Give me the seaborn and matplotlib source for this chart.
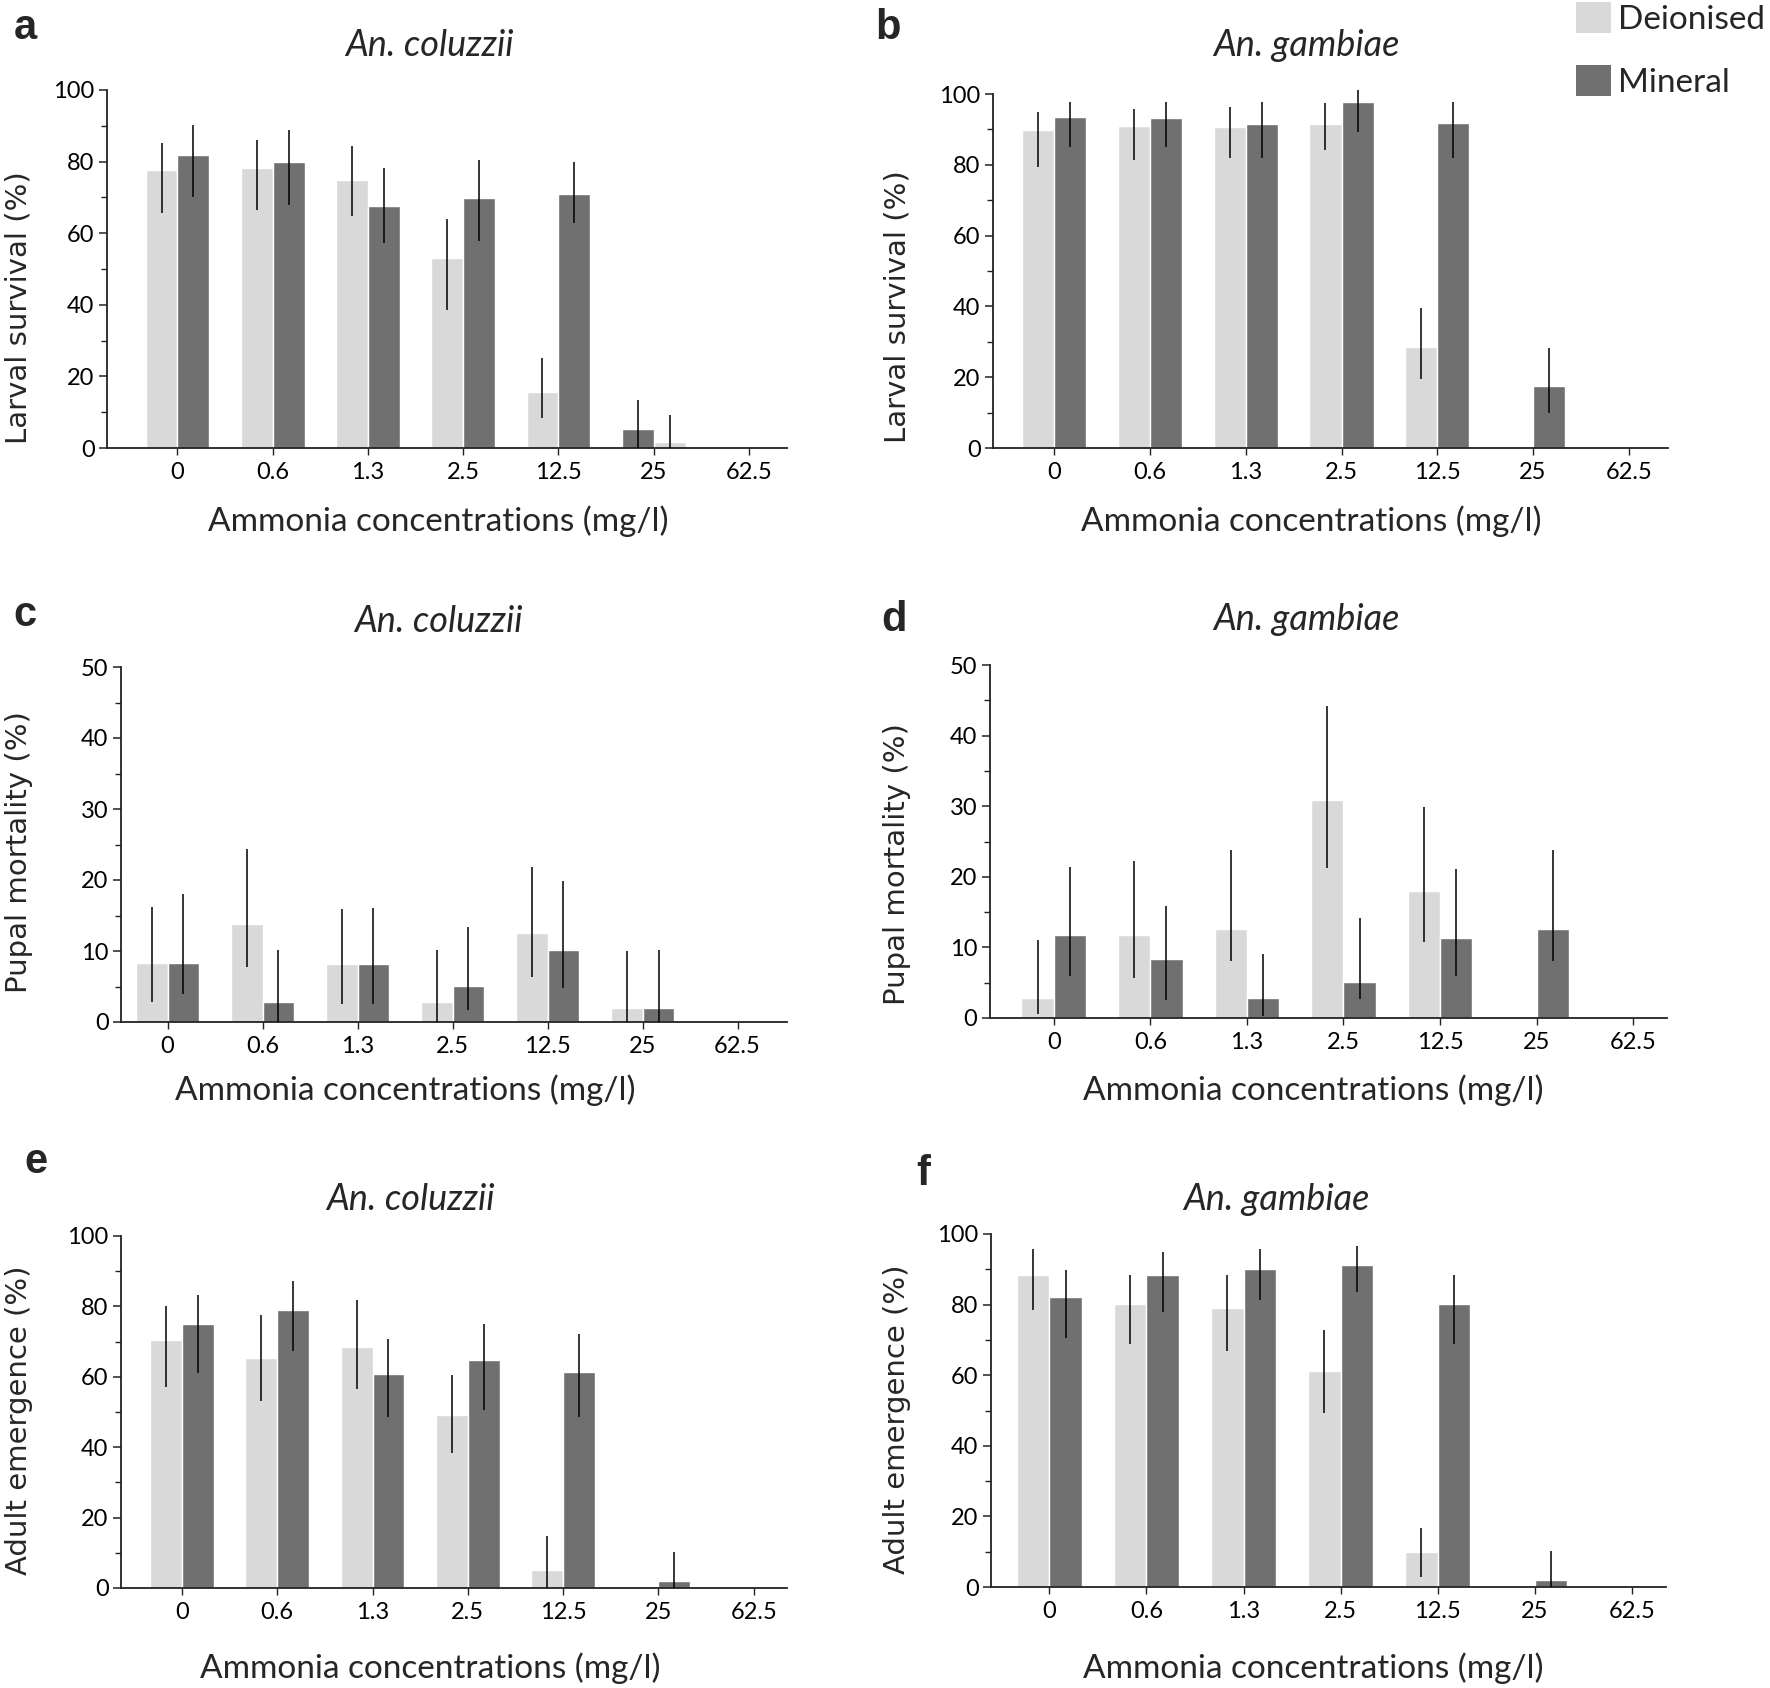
import numpy as np
import pandas as pd
import matplotlib
matplotlib.use("Agg")
import matplotlib.pyplot as plt
import seaborn as sns
from matplotlib.patches import Patch
from matplotlib.ticker import MultipleLocator

# ---------------- data ----------------
concentrations = ['0', '0.6', '1.3', '2.5', '12.5', '25', '62.5']
water = ['Deionised', 'Mineral']

# a: larval survival, An. coluzzii
a_deion = [77.7, 78.1, 75.0, 53.1, 15.7, 1.8, 0]
a_deion_lo = [65.6, 66.5, 64.7, 38.5, 8.3, 0, 0]
a_deion_hi = [85.3, 86.1, 84.3, 63.9, 25.1, 9.2, 0]
a_min = [81.9, 79.8, 67.5, 69.9, 70.9, 5.4, 0]
a_min_lo = [70.0, 67.9, 57.3, 57.8, 62.8, 0, 0]
a_min_hi = [90.1, 88.7, 78.1, 80.4, 80.0, 13.5, 0]
a_swapped = ['25']   # mineral bar drawn on the left at 25 mg/l in the original

# b: larval survival, An. gambiae
b_deion = [89.7, 91.1, 90.7, 91.5, 28.4, 0, 0]
b_deion_lo = [79.4, 81.4, 82.0, 84.2, 19.5, 0, 0]
b_deion_hi = [94.9, 95.9, 96.4, 97.4, 39.5, 0, 0]
b_min = [93.4, 93.1, 91.5, 97.6, 91.8, 17.5, 0]
b_min_lo = [84.9, 85.0, 82.0, 89.3, 82.0, 10.0, 0]
b_min_hi = [97.8, 97.8, 97.8, 101.1, 97.8, 28.2, 0]

# c: pupal mortality, An. coluzzii
c_deion = [8.3, 13.8, 8.1, 2.8, 12.6, 2.0, 0]
c_deion_lo = [2.8, 7.7, 2.5, 0, 6.4, 0, 0]
c_deion_hi = [16.2, 24.3, 15.9, 10.2, 21.8, 10.0, 0]
c_min = [8.3, 2.8, 8.1, 5.1, 10.2, 2.0, 0]
c_min_lo = [4.0, 0, 2.6, 1.7, 4.8, 0, 0]
c_min_hi = [18.0, 10.2, 16.1, 13.4, 19.9, 10.1, 0]

# d: pupal mortality, An. gambiae
d_deion = [2.8, 11.7, 12.6, 30.9, 18.0, 0, 0]
d_deion_lo = [0.5, 5.7, 8.1, 21.2, 10.8, 0, 0]
d_deion_hi = [11.1, 22.2, 23.8, 44.2, 29.9, 0, 0]
d_min = [11.7, 8.3, 2.8, 5.1, 11.3, 12.6, 0]
d_min_lo = [5.9, 2.6, 0.3, 2.7, 5.9, 8.1, 0]
d_min_hi = [21.4, 15.9, 9.1, 14.1, 21.1, 23.8, 0]

# e: adult emergence, An. coluzzii
e_deion = [70.4, 65.3, 68.6, 49.2, 5.2, 0, 0]
e_deion_lo = [57.2, 53.0, 56.6, 38.4, 0, 0, 0]
e_deion_hi = [80.1, 77.5, 81.9, 60.5, 14.9, 0, 0]
e_min = [75.1, 79.1, 60.7, 64.7, 61.5, 2.1, 0]
e_min_lo = [61.0, 67.4, 48.5, 50.7, 48.7, 0, 0]
e_min_hi = [83.3, 87.2, 70.6, 75.0, 72.2, 10.1, 0]

# f: adult emergence, An. gambiae
f_deion = [88.4, 80.1, 78.9, 61.2, 9.8, 0, 0]
f_deion_lo = [78.5, 68.9, 66.9, 49.4, 2.9, 0, 0]
f_deion_hi = [95.8, 88.5, 88.5, 72.7, 16.6, 0, 0]
f_min = [82.1, 88.4, 90.1, 91.2, 80.1, 2.0, 0]
f_min_lo = [70.4, 77.8, 81.2, 83.7, 68.8, 0, 0]
f_min_hi = [89.8, 95.0, 95.8, 96.5, 88.5, 10.1, 0]

species = ['An. coluzzii', 'An. gambiae']
ylabels = ['Larval survival (%)', 'Pupal mortality (%)', 'Adult emergence (%)']
xlabel = 'Ammonia concentrations (mg/l)'
letters = ['a', 'b', 'c', 'd', 'e', 'f']

# ---------------- style ----------------
sns.set_style('ticks')
plt.rcParams['font.family'] = ['Lato', 'DejaVu Sans']
palette = {'Deionised': '#d9d9d9', 'Mineral': '#707070'}

W, H = 1770, 1688
fig = plt.figure(figsize=(W / 100, H / 100), dpi=100)

# layout (figure pixels, from top-left)
layout = [
    dict(L=107, R=787, T=90, B=448, xl=(-0.74, 6.40), ymax=100, maj=20, mnr=10,
         tt=(429, 45), xlab=(438, 521), ylab=(19, 308), let=(25, 28)),
    dict(L=993, R=1668, T=94, B=448, xl=(-0.64, 6.41), ymax=100, maj=20, mnr=10,
         tt=(1306, 45), xlab=(1311, 521), ylab=(897, 307), let=(888, 28)),
    dict(L=121, R=787, T=667, B=1022, xl=(-0.49, 6.52), ymax=50, maj=10, mnr=5,
         tt=(438, 622), xlab=(405, 1090), ylab=(19, 852), let=(25, 615)),
    dict(L=990, R=1667, T=665, B=1018, xl=(-0.66, 6.35), ymax=50, maj=10, mnr=5,
         tt=(1306, 620), xlab=(1313, 1090), ylab=(897, 864), let=(894, 620)),
    dict(L=121, R=787, T=1236, B=1588, xl=(-0.64, 6.35), ymax=100, maj=20, mnr=10,
         tt=(410, 1199), xlab=(430, 1668), ylab=(19, 1420), let=(36, 1162)),
    dict(L=991, R=1666, T=1234, B=1587, xl=(-0.60, 6.35), ymax=100, maj=20, mnr=10,
         tt=(1276, 1199), xlab=(1313, 1668), ylab=(897, 1419), let=(923, 1174)),
]

panels = [
    (a_deion, a_deion_lo, a_deion_hi, a_min, a_min_lo, a_min_hi, a_swapped),
    (b_deion, b_deion_lo, b_deion_hi, b_min, b_min_lo, b_min_hi, []),
    (c_deion, c_deion_lo, c_deion_hi, c_min, c_min_lo, c_min_hi, []),
    (d_deion, d_deion_lo, d_deion_hi, d_min, d_min_lo, d_min_hi, []),
    (e_deion, e_deion_lo, e_deion_hi, e_min, e_min_lo, e_min_hi, []),
    (f_deion, f_deion_lo, f_deion_hi, f_min, f_min_lo, f_min_hi, []),
]

for i, (lay, pan) in enumerate(zip(layout, panels)):
    deion, dlo, dhi, mine, mlo, mhi, swapped = pan
    L, R, T, B = lay['L'], lay['R'], lay['T'], lay['B']
    ax = fig.add_axes([L / W, 1 - B / H, (R - L) / W, (B - T) / H])
    df = pd.DataFrame({
        'conc': concentrations * 2,
        'water': ['Deionised'] * len(concentrations) + ['Mineral'] * len(concentrations),
        'value': list(deion) + list(mine),
    })
    sns.barplot(data=df, x='conc', y='value', hue='water', order=concentrations,
                hue_order=water, palette=palette, width=0.67, errorbar=None,
                edgecolor='white', linewidth=1.0, saturation=1, legend=False, ax=ax)
    for cat in swapped:
        k = concentrations.index(cat)
        p0, p1 = ax.containers[0][k], ax.containers[1][k]
        x0, x1 = p0.get_x(), p1.get_x()
        p0.set_x(x1)
        p1.set_x(x0)
    for cont, lo, hi in zip(ax.containers, [dlo, mlo], [dhi, mhi]):
        xs, ls, hs = [], [], []
        for j, patch in enumerate(cont):
            if hi[j] > lo[j]:
                xs.append(patch.get_x() + patch.get_width() / 2)
                ls.append(lo[j])
                hs.append(hi[j])
        ax.vlines(xs, ls, hs, color='black', linewidth=1.1, clip_on=False, zorder=4)

    ax.set_xlim(*lay['xl'])
    ax.set_ylim(0, lay['ymax'])
    ax.yaxis.set_major_locator(MultipleLocator(lay['maj']))
    ax.yaxis.set_minor_locator(MultipleLocator(lay['mnr']))
    sns.despine(ax=ax)
    for s in ['left', 'bottom']:
        ax.spines[s].set_linewidth(1.3)
        ax.spines[s].set_color('#222222')
    ax.tick_params(axis='y', which='major', length=6, width=1.1, labelsize=17, pad=3, colors='#222222', labelcolor='black')
    ax.tick_params(axis='y', which='minor', length=4, width=1.0, colors='#222222')
    ax.tick_params(axis='x', which='major', length=5, width=1.0, labelsize=17, pad=5, colors='#222222', labelcolor='black')

    ax.set_xlabel(xlabel, fontsize=24)
    ax.xaxis.label.set_va('center')
    ax.xaxis.set_label_coords((lay['xlab'][0] - L) / (R - L), (B - lay['xlab'][1]) / (B - T))
    ax.set_ylabel(ylabels[i // 2], fontsize=21, family=['DejaVu Sans'])
    ax.yaxis.label.set_va('center')
    ax.yaxis.set_label_coords((lay['ylab'][0] - L) / (R - L), (B - lay['ylab'][1]) / (B - T))

    fig.text(lay['tt'][0] / W, 1 - lay['tt'][1] / H, species[i % 2], fontsize=26,
             style='italic', ha='center', va='center')
    fig.text(lay['let'][0] / W, 1 - lay['let'][1] / H, letters[i], fontsize=30,
             fontweight='bold', family=['Liberation Sans', 'DejaVu Sans'], ha='center', va='center')

handles = [Patch(facecolor=palette[w], edgecolor='none', label=w) for w in water]
fig.legend(handles=handles, loc='upper left', bbox_to_anchor=(1576 / W, 1.0 - 2 / H),
           frameon=False, fontsize=24, handlelength=1.05, handleheight=1.05,
           handletextpad=0.2, labelspacing=0.9, borderpad=0, borderaxespad=0)

fig.savefig('out.png', dpi=100)
